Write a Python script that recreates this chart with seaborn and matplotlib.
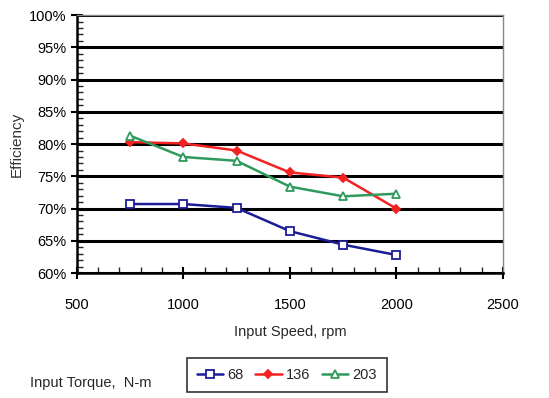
import pandas as pd
import matplotlib
matplotlib.use("Agg")
import matplotlib.pyplot as plt
from matplotlib.ticker import MultipleLocator, PercentFormatter
import seaborn as sns

# -----------------------------------------------------
# DATA
# -----------------------------------------------------

speed = [750, 1000, 1250, 1500, 1750, 2000]
eff_68 = [70.7, 70.7, 70.1, 66.5, 64.4, 62.8]
eff_136 = [80.3, 80.1, 79.0, 75.6, 74.8, 70.0]
eff_203 = [81.3, 78.0, 77.4, 73.4, 71.9, 72.3]
torque_labels = ["68", "136", "203"]

df = pd.DataFrame({
    "speed": speed * 3,
    "eff": eff_68 + eff_136 + eff_203,
    "torque": [t for t in torque_labels for _ in speed],
})

# -----------------------------------------------------
# PLOT
# -----------------------------------------------------

sns.set_style("white")
plt.rcParams['font.family'] = ['Liberation Sans', 'DejaVu Sans']

fig = plt.figure(figsize=(5.49, 3.98), dpi=100)
ax = fig.add_axes([0.140, 0.314, 0.776, 0.648])

colors = {"68": "#1c1c96", "136": "#f22222", "203": "#2f9a5c"}
markers = {"68": "s", "136": "D", "203": "^"}
mfill = {"68": "white", "136": "#f22222", "203": "white"}
msize = {"68": 6, "136": 4.5, "203": 6}

for t in torque_labels:
    sub = df[df["torque"] == t]
    sns.lineplot(
        data=sub, x="speed", y="eff", ax=ax,
        color=colors[t], marker=markers[t], markersize=msize[t],
        markerfacecolor=mfill[t], markeredgecolor=colors[t],
        markeredgewidth=1.3, linewidth=1.8, label=t,
    )

ax.set_xlim(500, 2500)
ax.set_ylim(60, 100)
ax.xaxis.set_major_locator(MultipleLocator(500))
ax.xaxis.set_minor_locator(MultipleLocator(100))
ax.yaxis.set_major_locator(MultipleLocator(5))
ax.yaxis.set_minor_locator(MultipleLocator(1))
ax.yaxis.set_major_formatter(PercentFormatter(decimals=0))

ax.grid(axis='y', which='major', color='black', linewidth=2.2)
ax.set_axisbelow(True)
for side in ['left', 'bottom']:
    ax.spines[side].set_color('black')
    ax.spines[side].set_linewidth(1.8)
for side in ['top', 'right']:
    ax.spines[side].set_color('#888888')
    ax.spines[side].set_linewidth(1.0)

ax.tick_params(axis='both', which='major', direction='inout', length=8, width=1.5,
               labelsize=10.5, colors='black', left=True, bottom=True)
ax.tick_params(axis='both', which='minor', direction='in', length=4, width=1.0,
               left=True, bottom=True)
ax.tick_params(axis='x', pad=14)

ax.set_xlabel("Input Speed, rpm", fontsize=10.5, labelpad=9)
ax.set_ylabel("Efficiency", fontsize=11, color='#333333', labelpad=4)

leg = ax.legend(loc='center', bbox_to_anchor=(0.493, -0.395), ncol=3,
                frameon=True, fontsize=10.5, handlelength=1.8, columnspacing=0.8,
                handletextpad=0.3, borderpad=0.7, fancybox=False)
leg.get_frame().set_edgecolor('black')
leg.get_frame().set_linewidth(1.2)

fig.text(0.055, 0.038, "Input Torque,  N-m", fontsize=10.5, va='center', ha='left')

plt.savefig("out.png", dpi=100)
plt.close()
